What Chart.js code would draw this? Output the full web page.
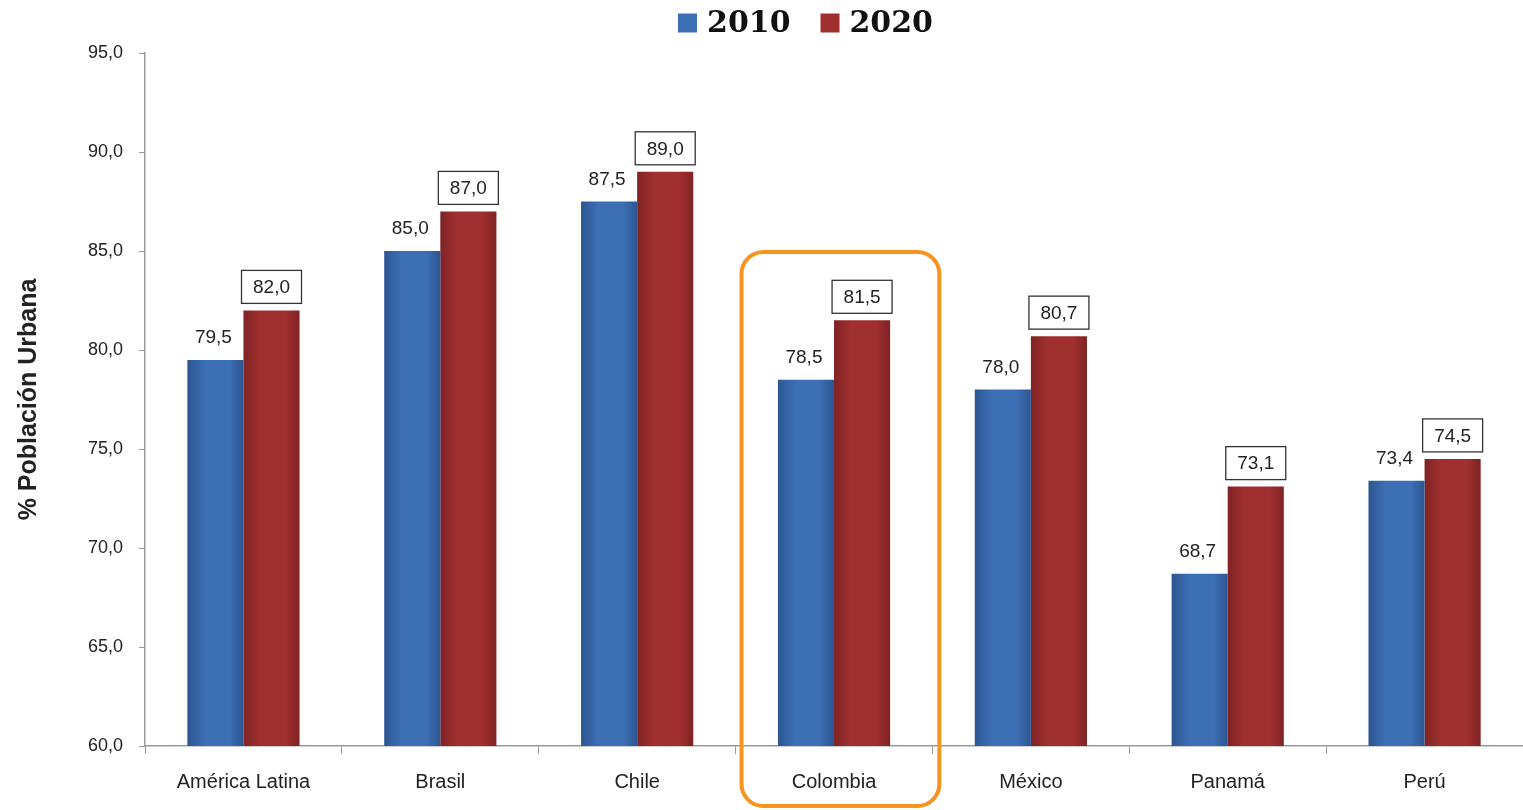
<!DOCTYPE html>
<html>
<head>
<meta charset="utf-8">
<script src="https://cdn.jsdelivr.net/npm/chart.js@4"></script>
<style>
  body { margin: 0; background: #fff; }
  #wrap { width: 1523px; height: 810px; }
</style>
</head>
<body>
<div id="wrap"><canvas id="chart" width="1523" height="810"></canvas></div>
<script>
const categories = ['América Latina', 'Brasil', 'Chile', 'Colombia', 'México', 'Panamá', 'Perú'];
const values2010 = [79.5, 85.0, 87.5, 78.5, 78.0, 68.7, 73.4];
const values2020 = [82.0, 87.0, 89.0, 81.5, 80.7, 73.1, 74.5];
const seriesNames = ['2010', '2020'];
const seriesColors = ['#3d6fb5', '#a0302f'];
const highlightIndex = 3;
const catPct = 0.57;

function fmt(v) { return v.toFixed(1).replace('.', ','); }

// horizontal gradient to mimic the shaded bars, placed from the x scale
function barGradient(ctx, dark, light) {
  const xs = ctx.chart.scales && ctx.chart.scales.x;
  if (!xs || ctx.dataIndex === undefined || !isFinite(xs.getPixelForValue(0))) return light;
  const step = xs.getPixelForValue(1) - xs.getPixelForValue(0);
  const w = step * catPct / 2;
  if (!isFinite(w) || w <= 0) return light;
  const cx = xs.getPixelForValue(ctx.dataIndex);
  const x0 = ctx.datasetIndex === 0 ? cx - w : cx;
  const g = ctx.chart.ctx.createLinearGradient(x0, 0, x0 + w, 0);
  g.addColorStop(0, dark);
  g.addColorStop(0.3, light);
  g.addColorStop(0.75, light);
  g.addColorStop(1, dark);
  return g;
}

// value labels: plain for 2010, boxed for 2020
const valueLabels = {
  id: 'valueLabels',
  afterDatasetsDraw(chart) {
    const c = chart.ctx;
    c.save();
    c.font = '19px Arial, "Liberation Sans", sans-serif';
    c.textAlign = 'center';
    c.textBaseline = 'middle';
    chart.data.datasets.forEach((ds, di) => {
      chart.getDatasetMeta(di).data.forEach((bar, i) => {
        const txt = fmt(ds.data[i]);
        if (di === 0) {
          c.fillStyle = '#222';
          c.fillText(txt, bar.x - 2, bar.y - 22);
        } else {
          const w = 60, h = 33;
          const bx = bar.x - w / 2, by = bar.y - 40;
          c.fillStyle = '#fff';
          c.fillRect(bx, by, w, h);
          c.strokeStyle = '#333';
          c.lineWidth = 1.3;
          c.strokeRect(bx, by, w, h);
          c.fillStyle = '#222';
          c.fillText(txt, bar.x, by + h / 2 + 1);
        }
      });
    });
    c.restore();
  }
};

// legend drawn by hand so the spacing matches
const topLegend = {
  id: 'topLegend',
  afterDraw(chart) {
    const c = chart.ctx;
    c.save();
    c.font = 'bold 30px "DejaVu Serif", "Liberation Serif", serif';
    c.textBaseline = 'middle';
    const box = 19, gapText = 10, gapItem = 30;
    const widths = seriesNames.map(n => c.measureText(n).width);
    let total = 0;
    widths.forEach((w, i) => { total += box + gapText + w + (i < widths.length - 1 ? gapItem : 0); });
    let x = chart.width / 2 - total / 2 + 44;
    const yc = 23;
    seriesNames.forEach((n, i) => {
      c.fillStyle = seriesColors[i];
      c.fillRect(x, yc - box / 2, box, box);
      x += box + gapText;
      c.fillStyle = '#111';
      c.fillText(n, x, yc + 1);
      x += widths[i] + gapItem;
    });
    c.restore();
  }
};

// orange rounded frame around the highlighted category
const highlightFrame = {
  id: 'highlightFrame',
  afterDraw(chart) {
    const x = chart.scales.x, y = chart.scales.y;
    const cx = x.getPixelForValue(highlightIndex);
    const step = x.getPixelForValue(1) - x.getPixelForValue(0);
    const left = cx - step * 0.47, right = cx + step * 0.535;
    const top = y.getPixelForValue(85) + 1;
    const bottom = chart.height - 4;
    const c = chart.ctx;
    c.save();
    c.strokeStyle = '#f7931e';
    c.lineWidth = 4;
    c.beginPath();
    c.roundRect(left, top, right - left, bottom - top, 22);
    c.stroke();
    c.restore();
  }
};

new Chart(document.getElementById('chart'), {
  type: 'bar',
  data: {
    labels: categories,
    datasets: [
      {
        label: seriesNames[0],
        data: values2010,
        backgroundColor: ctx => barGradient(ctx, '#2c5590', seriesColors[0]),
        borderWidth: 0
      },
      {
        label: seriesNames[1],
        data: values2020,
        backgroundColor: ctx => barGradient(ctx, '#7f2224', seriesColors[1]),
        borderWidth: 0
      }
    ]
  },
  options: {
    responsive: false,
    animation: false,
    layout: { padding: { top: 53, right: 0, bottom: 0, left: 14 } },
    datasets: { bar: { barPercentage: 1, categoryPercentage: catPct } },
    plugins: {
      tooltip: { enabled: false },
      legend: { display: false }
    },
    scales: {
      x: {
        grid: { display: true, drawOnChartArea: false, drawTicks: true, tickLength: 8, color: '#999', offset: true },
        border: { display: true, color: '#999', width: 1.5 },
        ticks: { color: '#222', font: { family: 'Arial, "Liberation Sans", sans-serif', size: 20 }, padding: 16 }
      },
      y: {
        min: 60,
        max: 95,
        grid: { display: true, drawOnChartArea: false, drawTicks: true, tickLength: 6, color: '#999' },
        border: { display: true, color: '#999', width: 1.5 },
        ticks: {
          stepSize: 5,
          color: '#222',
          font: { family: 'Arial, "Liberation Sans", sans-serif', size: 18 },
          padding: 16,
          callback: v => fmt(v)
        },
        title: {
          display: true,
          text: '% Población Urbana',
          color: '#222',
          font: { family: 'Arial, "Liberation Sans", sans-serif', size: 25, weight: 'bold' },
          padding: { top: 0, bottom: 28 }
        }
      }
    }
  },
  plugins: [valueLabels, topLegend, highlightFrame]
});
</script>
</body>
</html>
